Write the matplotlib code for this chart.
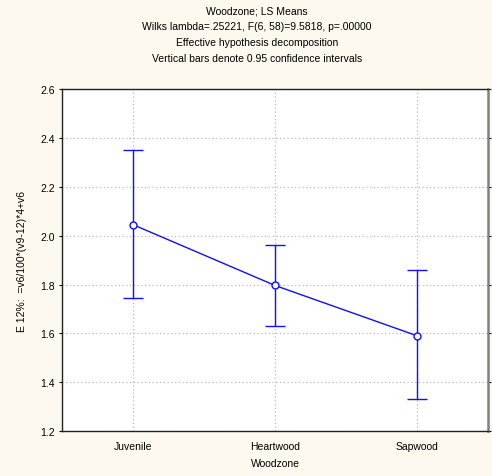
import numpy as np
import matplotlib.pyplot as plt

plt.rcParams['font.family'] = ['Liberation Sans', 'DejaVu Sans']

zones = ['Juvenile', 'Heartwood', 'Sapwood']
means = [2.045, 1.796, 1.590]
ci_low = [1.746, 1.632, 1.330]
ci_high = [2.352, 1.963, 1.860]

title_lines = [
    'Woodzone; LS Means',
    'Wilks lambda=.25221, F(6, 58)=9.5818, p=.00000',
    'Effective hypothesis decomposition',
    'Vertical bars denote 0.95 confidence intervals',
]

bg = '#fdf9ef'
blue = '#1010ff'

fig = plt.figure(figsize=(4.92, 4.77), dpi=100, facecolor=bg)
ax = fig.add_axes([0.126, 0.0943, 0.866, 0.7167])
ax.set_facecolor('white')

x = np.arange(len(zones))
means = np.array(means)
yerr = np.array([means - np.array(ci_low), np.array(ci_high) - means])

ax.errorbar(x, means, yerr=yerr, color=blue, lw=1, capsize=7, capthick=1,
            marker='o', ms=5, mfc='white', mec=blue, mew=1, zorder=3)

ax.set_xlim(-0.5, 2.5)
ax.set_ylim(1.2, 2.6)
yt = np.arange(1.2, 2.61, 0.2)
ax.set_yticks(yt)
ax.set_yticklabels([f'{v:.1f}' for v in yt])
ax.set_xticks(x)
ax.set_xticklabels(zones)
ax.grid(True, ls=(0, (1, 2)), color='#bbbbbb', lw=0.9)
ax.tick_params(axis='both', labelsize=7.5, color='black')
ax.tick_params(axis='y', length=2, pad=3)
ax.tick_params(axis='y', which='major', right=True)
ax.yaxis.set_tick_params(which='major', direction='out')
ax.tick_params(axis='x', length=0, pad=7)
for s in ax.spines.values():
    s.set_color('#222222')
    s.set_linewidth(1)
ax.spines['right'].set_color('#808080')
ax.spines['right'].set_linewidth(1.8)

ax.set_xlabel('Woodzone', fontsize=7.5, labelpad=5)
ax.set_ylabel('E 12%:  =v6/100*(v9-12)*4+v6', fontsize=7.5, labelpad=10)

for i, line in enumerate(title_lines):
    fig.text(0.522, 1 - (11 + 16 * i) / 477, line, ha='center', va='center', fontsize=7.5)

fig.savefig('out.png', dpi=100, facecolor=bg)
